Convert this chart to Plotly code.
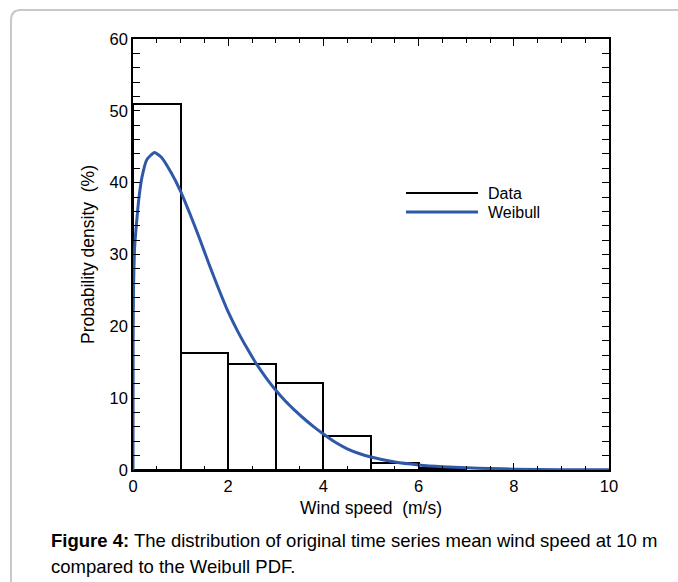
import plotly.graph_objects as go

# ---- data ----
bin_centers = [0.5, 1.5, 2.5, 3.5, 4.5, 5.5, 6.5]
bin_values = [51.0, 16.35, 14.8, 12.05, 4.78, 0.93, 0.25]

weibull_x = [0, 0.003, 0.01, 0.03, 0.05, 0.08, 0.12, 0.19, 0.29, 0.45, 0.6, 0.8,
             1.0, 1.2, 1.4, 1.6, 1.8, 2.0, 2.2, 2.4, 2.6, 2.8, 3.0, 3.2, 3.4, 3.6,
             3.8, 4.0, 4.25, 4.5, 4.75, 5.0, 5.5, 6.0, 6.5, 7.0, 7.5, 8.0, 9.0, 10.0]
weibull_y = [0, 18, 25, 30.5, 32.5, 34.8, 37.6, 40.8, 43.2, 44.2, 43.5, 41.4,
             38.8, 35.6, 32.2, 28.6, 25.2, 22.0, 19.3, 16.9, 14.7, 12.8, 11.1, 9.6, 8.3, 7.1,
             6.0, 5.0, 3.85, 2.95, 2.3, 1.8, 1.1, 0.7, 0.45, 0.3, 0.2, 0.12, 0.05, 0.02]

x_ticks = [0, 2, 4, 6, 8, 10]
y_ticks = [0, 10, 20, 30, 40, 50, 60]

BLUE = "#2F58A8"
FONT = "Liberation Sans, Arial, sans-serif"

W, H = 678, 582
L, R, T, B = 133, 69, 39, 112
pw, ph = W - L - R, H - T - B


def px_to_paper(px, py):
    return (px - L) / pw, (H - B - py) / ph


fig = go.Figure()
fig.add_trace(go.Bar(
    x=bin_centers, y=bin_values, width=1,
    marker=dict(color="white", line=dict(color="black", width=2)),
    name="Data", showlegend=False, hoverinfo="skip"))
fig.add_trace(go.Scatter(
    x=weibull_x, y=weibull_y, mode="lines",
    line=dict(color=BLUE, width=3, shape="spline", smoothing=0.5),
    name="Weibull", showlegend=False))

axis_common = dict(
    showgrid=False, zeroline=False, showline=True, linecolor="black", linewidth=1.5,
    mirror="allticks", ticks="inside", tickcolor="black", tickwidth=1.2,
    tickfont=dict(family=FONT, size=16.5, color="black"),
)

fig.update_xaxes(range=[0, 10], tickvals=x_ticks, ticklen=7,
                 minor=dict(dtick=0.5, ticks="inside", ticklen=4, tickcolor="black", tickwidth=1),
                 title=dict(text="Wind speed  (m/s)", font=dict(family=FONT, size=17.5, color="black"), standoff=8),
                 **axis_common)
fig.update_yaxes(range=[0, 60], tickvals=y_ticks, ticklen=7,
                 minor=dict(dtick=2, ticks="inside", ticklen=7, tickcolor="black", tickwidth=1),
                 title=dict(text="Probability density  (%)", font=dict(family=FONT, size=17.5, color="black"), standoff=10),
                 **axis_common)

shapes = []
# manual legend lines
for py, col, wd in [(193, "black", 2), (212, BLUE, 3)]:
    x0, y0 = px_to_paper(406, py)
    x1, _ = px_to_paper(478, py)
    shapes.append(dict(type="line", xref="paper", yref="paper", x0=x0, x1=x1, y0=y0, y1=y0,
                       line=dict(color=col, width=wd)))

# rounded frame (top-left corner visible)
xl, yt = px_to_paper(11, 10)
xb, yb = px_to_paper(11, 600)
xr, _ = px_to_paper(700, 10)
dx, dy = 10 / pw, 10 / ph
path = (f"M{xl},{yb} L{xl},{yt - dy} Q{xl},{yt} {xl + dx},{yt} L{xr},{yt}")
shapes.append(dict(type="path", xref="paper", yref="paper", path=path,
                   line=dict(color="#C8C8C8", width=2)))

annotations = []
for py, txt in [(193, "Data"), (212, "Weibull")]:
    ax, ay = px_to_paper(486, py)
    annotations.append(dict(xref="paper", yref="paper", x=ax, y=ay, text=txt, showarrow=False,
                            xanchor="left", yanchor="middle",
                            font=dict(family=FONT, size=16, color="black")))

cx, cy = px_to_paper(49, 540)
annotations.append(dict(xref="paper", yref="paper", x=cx, y=cy, showarrow=False,
                        xanchor="left", yanchor="middle", align="left",
                        text="<b>Figure 4:</b> The distribution of original time series mean wind speed at 10 m",
                        font=dict(family=FONT, size=18.5, color="black")))
cx2, cy2 = px_to_paper(49, 566)
annotations.append(dict(xref="paper", yref="paper", x=cx2, y=cy2, showarrow=False,
                        xanchor="left", yanchor="middle", align="left",
                        text="compared to the Weibull PDF.",
                        font=dict(family=FONT, size=18.5, color="black")))

fig.update_layout(
    width=W, height=H, margin=dict(l=L, r=R, t=T, b=B, autoexpand=False),
    paper_bgcolor="white", plot_bgcolor="white",
    bargap=0, showlegend=False, shapes=shapes, annotations=annotations,
    font=dict(family=FONT, color="black"),
)

fig.write_html("out.html")
